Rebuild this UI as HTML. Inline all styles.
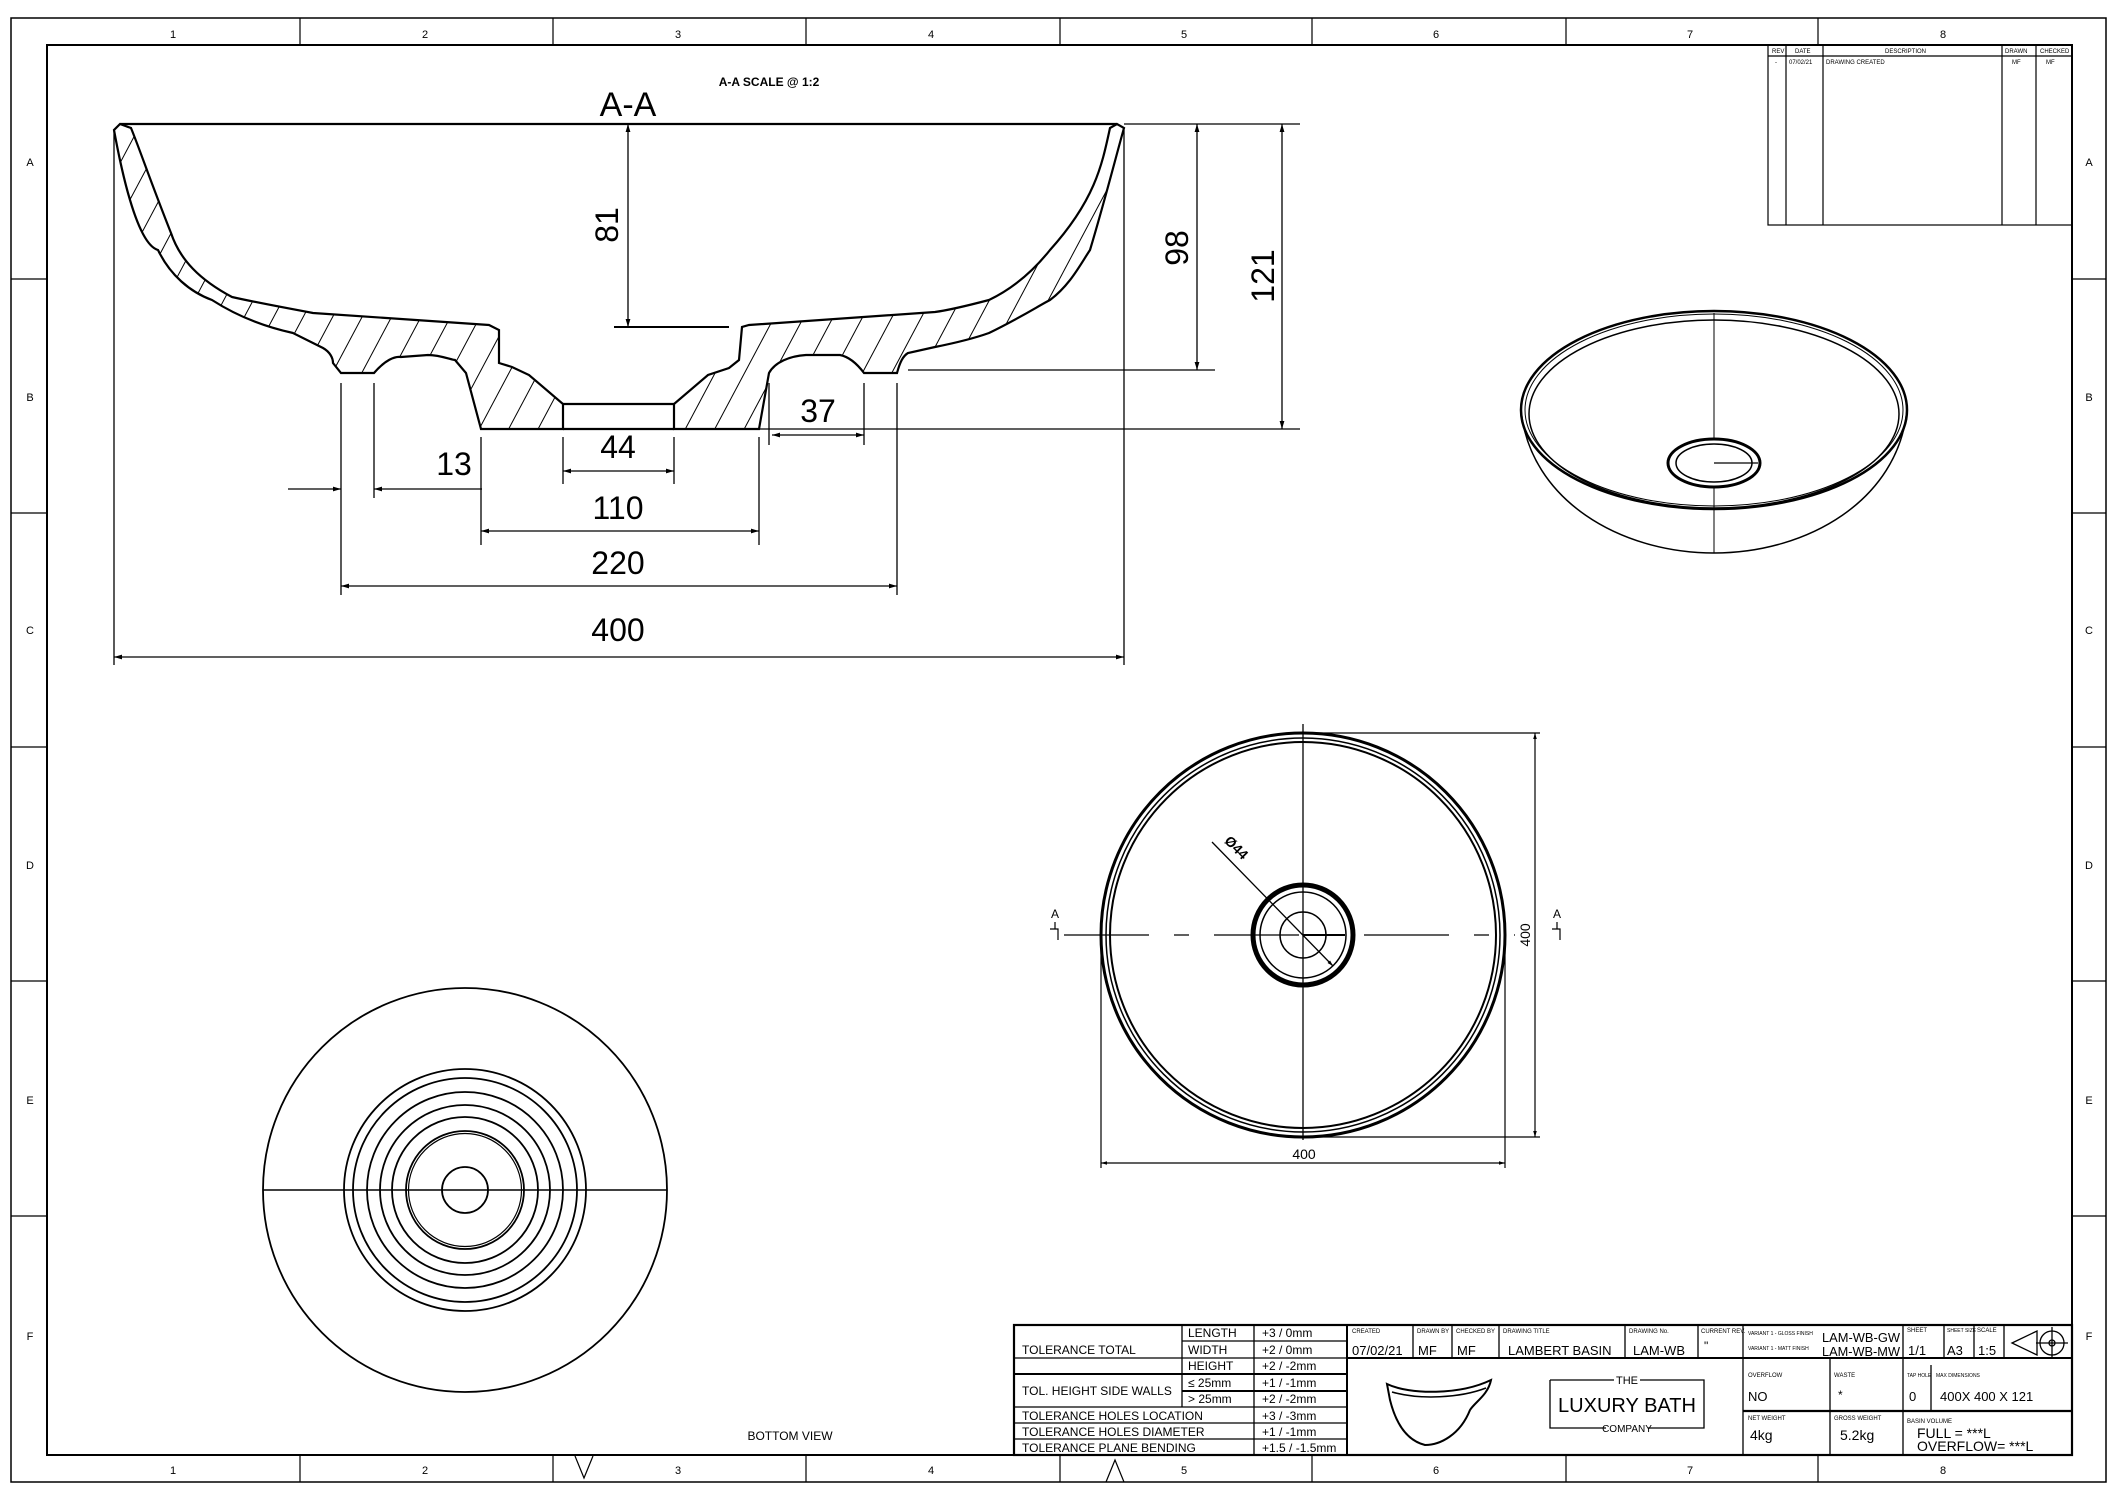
<!DOCTYPE html>
<html><head><meta charset="utf-8"><style>
html,body{margin:0;padding:0;background:#fff}
svg{display:block}
text{font-family:"Liberation Sans",Arial,sans-serif;fill:#000}
</style></head><body>
<svg width="2117" height="1497" viewBox="0 0 2117 1497" xmlns="http://www.w3.org/2000/svg">
<defs>
<pattern id="h" patternUnits="userSpaceOnUse" width="26" height="26" patternTransform="rotate(28)">
<line x1="0" y1="0" x2="0" y2="26" stroke="#000" stroke-width="2"/>
</pattern>
<marker id="ar" viewBox="0 0 10 10" refX="10" refY="5" markerWidth="12" markerHeight="6" markerUnits="userSpaceOnUse" orient="auto-start-reverse"><path d="M0,2 L10,5 L0,8z" fill="#000"/></marker>
<marker id="ar2" viewBox="0 0 10 10" refX="10" refY="5" markerWidth="20" markerHeight="8" markerUnits="userSpaceOnUse" orient="auto-start-reverse"><path d="M0,2 L10,5 L0,8z" fill="#000"/></marker>
</defs>
<g fill="none" stroke="#000">
<rect x="11" y="18" width="2095" height="1464" stroke-width="1.5"/>
<rect x="47" y="45" width="2025" height="1410" stroke-width="2"/>
<g stroke-width="1.2">
<line x1="300" y1="18" x2="300" y2="45"/><line x1="553" y1="18" x2="553" y2="45"/><line x1="806" y1="18" x2="806" y2="45"/><line x1="1060" y1="18" x2="1060" y2="45"/><line x1="1312" y1="18" x2="1312" y2="45"/><line x1="1566" y1="18" x2="1566" y2="45"/><line x1="1818" y1="18" x2="1818" y2="45"/>
<line x1="300" y1="1455" x2="300" y2="1482"/><line x1="553" y1="1455" x2="553" y2="1482"/><line x1="806" y1="1455" x2="806" y2="1482"/><line x1="1060" y1="1455" x2="1060" y2="1482"/><line x1="1312" y1="1455" x2="1312" y2="1482"/><line x1="1566" y1="1455" x2="1566" y2="1482"/><line x1="1818" y1="1455" x2="1818" y2="1482"/>
<line x1="11" y1="279" x2="47" y2="279"/><line x1="11" y1="513" x2="47" y2="513"/><line x1="11" y1="747" x2="47" y2="747"/><line x1="11" y1="981" x2="47" y2="981"/><line x1="11" y1="1216" x2="47" y2="1216"/>
<line x1="2072" y1="279" x2="2106" y2="279"/><line x1="2072" y1="513" x2="2106" y2="513"/><line x1="2072" y1="747" x2="2106" y2="747"/><line x1="2072" y1="981" x2="2106" y2="981"/><line x1="2072" y1="1216" x2="2106" y2="1216"/>
<path d="M575,1456 L584,1478 L593,1456"/>
<path d="M1106,1482 L1115,1460 L1124,1482"/>
</g>

<path fill="url(#h)" stroke-width="2.2" d="M120,124 L114,130 C125,190 140,245 158,250 C170,275 190,292 212,300 C240,318 270,328 293,333 L323,348 C330,352 333,358 333,363 L341,373 L374,373 C385,360 395,356 401,357 L428,355 C440,355 452,360 455,360 L466,373 L481,429 L563,429 L563,404 L529,375 L512,367 L499,363 L499,330 L489,325 L313,313 C270,305 245,300 232,297 C200,280 180,260 171,233 C150,180 140,150 131,128 Z"/>
<path fill="url(#h)" stroke-width="2.2" d="M674,404 L674,429 L759,429 L769,373 C775,362 790,356 806,355 L840,355 C850,357 858,365 864,373 L897,373 C900,362 903,356 908,353 L935,347 C960,342 975,338 989,333 C1020,318 1040,305 1050,300 C1070,285 1080,265 1090,250 C1105,200 1115,160 1124,128 L1117,124 L1110,128 C1102,165 1095,200 1050,250 C1030,275 1010,290 989,300 C970,305 950,310 935,312 L749,325 L742,327 L739,360 L729,368 L708,375 Z"/>
<line x1="563" y1="404" x2="674" y2="404" stroke-width="2.2"/>
<line x1="563" y1="429" x2="674" y2="429" stroke-width="2.2"/>
<line x1="120" y1="124" x2="1117" y2="124" stroke-width="2.2"/>
<g stroke-width="1.3">
<line x1="1124" y1="124" x2="1300" y2="124"/>
<line x1="759" y1="429" x2="1300" y2="429"/>
<line x1="908" y1="370" x2="1215" y2="370"/>
<line x1="614" y1="327" x2="729" y2="327" stroke-width="2"/>
<line x1="628" y1="124" x2="628" y2="327" marker-start="url(#ar2)" marker-end="url(#ar2)"/>
<line x1="1197" y1="124" x2="1197" y2="370" marker-start="url(#ar2)" marker-end="url(#ar2)"/>
<line x1="1282" y1="124" x2="1282" y2="429" marker-start="url(#ar2)" marker-end="url(#ar2)"/>
<line x1="114" y1="130" x2="114" y2="665"/><line x1="1124" y1="130" x2="1124" y2="665"/>
<line x1="341" y1="383" x2="341" y2="595"/><line x1="374" y1="383" x2="374" y2="498"/>
<line x1="481" y1="437" x2="481" y2="545"/><line x1="563" y1="437" x2="563" y2="484"/>
<line x1="674" y1="437" x2="674" y2="484"/><line x1="759" y1="437" x2="759" y2="545"/>
<line x1="769" y1="383" x2="769" y2="445"/><line x1="864" y1="383" x2="864" y2="445"/>
<line x1="897" y1="383" x2="897" y2="595"/>
<line x1="772" y1="435" x2="864" y2="435" marker-start="url(#ar2)" marker-end="url(#ar2)"/>
<line x1="288" y1="489" x2="341" y2="489" marker-end="url(#ar2)"/>
<line x1="482" y1="489" x2="374" y2="489" marker-end="url(#ar2)"/>
<line x1="563" y1="471" x2="674" y2="471" marker-start="url(#ar2)" marker-end="url(#ar2)"/>
<line x1="481" y1="531" x2="759" y2="531" marker-start="url(#ar2)" marker-end="url(#ar2)"/>
<line x1="341" y1="586" x2="897" y2="586" marker-start="url(#ar2)" marker-end="url(#ar2)"/>
<line x1="114" y1="657" x2="1124" y2="657" marker-start="url(#ar2)" marker-end="url(#ar2)"/>
</g>

<g stroke-width="2">
<ellipse cx="1714" cy="410" rx="193" ry="99" stroke-width="2.5"/>
<ellipse cx="1714" cy="414" rx="185" ry="94" stroke-width="1.5"/>
<ellipse cx="1714" cy="410" rx="189" ry="96" stroke-width="1"/>
<path d="M1521,410 C1530,500 1620,553 1714,553 C1808,553 1898,500 1907,410" stroke-width="1.5"/>
<ellipse cx="1714" cy="463" rx="46" ry="24" stroke-width="3"/>
<ellipse cx="1714" cy="463" rx="38" ry="19" stroke-width="1.5"/>
<line x1="1714" y1="313" x2="1714" y2="439" stroke-width="1"/>
<line x1="1714" y1="487" x2="1714" y2="553" stroke-width="1"/>
<line x1="1714" y1="463" x2="1758" y2="463" stroke-width="1.2"/>
</g>

<g>
<circle cx="1303" cy="935" r="202" stroke-width="3"/>
<circle cx="1303" cy="935" r="197" stroke-width="1.5"/>
<circle cx="1303" cy="935" r="193" stroke-width="2"/>
<circle cx="1303" cy="935" r="50" stroke-width="5"/>
<circle cx="1303" cy="935" r="43" stroke-width="1.5"/>
<circle cx="1303" cy="935" r="23" stroke-width="1.5"/>
<line x1="1064" y1="935" x2="1515" y2="935" stroke-width="1.2" stroke-dasharray="85,25,15,25"/>
<line x1="1303" y1="724" x2="1303" y2="1140" stroke-width="1.3"/>
<line x1="1303" y1="935" x2="1345" y2="935" stroke-width="2"/>
<line x1="1212" y1="842" x2="1333" y2="966" stroke-width="1.3" marker-end="url(#ar)"/>
<g stroke-width="1.2">
<line x1="1303" y1="733" x2="1540" y2="733"/><line x1="1303" y1="1137" x2="1540" y2="1137"/>
<line x1="1535" y1="733" x2="1535" y2="1137" marker-start="url(#ar)" marker-end="url(#ar)"/>
<line x1="1101" y1="935" x2="1101" y2="1168"/><line x1="1505" y1="935" x2="1505" y2="1168"/>
<line x1="1101" y1="1163" x2="1505" y2="1163" marker-start="url(#ar)" marker-end="url(#ar)"/>
<path d="M1050,929 L1058,929 L1058,940 M1055,929 L1055,922" /><path d="M1552,929 L1560,929 L1560,940 M1557,929 L1557,922"/>
</g>
</g>

<g stroke-width="1.8">
<circle cx="465" cy="1190" r="202"/>
<circle cx="465" cy="1190" r="121"/>
<circle cx="465" cy="1190" r="112"/>
<circle cx="465" cy="1190" r="98"/>
<circle cx="465" cy="1190" r="85"/>
<circle cx="465" cy="1190" r="73"/>
<circle cx="465" cy="1190" r="59"/>
<circle cx="465" cy="1190" r="56.5" stroke-width="1.2"/>
<circle cx="465" cy="1190" r="23"/>
<line x1="263" y1="1190" x2="667" y2="1190" stroke-width="1.5"/>
</g>

<g stroke-width="1.2">
<rect x="1768" y="45" width="304" height="180"/>
<line x1="1768" y1="56" x2="2072" y2="56"/>
<line x1="1786" y1="45" x2="1786" y2="225"/><line x1="1823" y1="45" x2="1823" y2="225"/>
<line x1="2002" y1="45" x2="2002" y2="225"/><line x1="2036" y1="45" x2="2036" y2="225"/>
</g>

<g stroke-width="1.3">
<rect x="1014" y="1325" width="1058" height="130" stroke-width="2.2"/>
<line x1="1014" y1="1358" x2="1182" y2="1358"/>
<line x1="1014" y1="1374" x2="1347" y2="1374" stroke-width="2"/>
<line x1="1182" y1="1341" x2="1347" y2="1341"/><line x1="1182" y1="1358" x2="1347" y2="1358"/>
<line x1="1182" y1="1391" x2="1347" y2="1391" stroke-width="2"/>
<line x1="1014" y1="1407" x2="1347" y2="1407"/>
<line x1="1014" y1="1423" x2="1347" y2="1423"/>
<line x1="1014" y1="1439" x2="1347" y2="1439"/>
<line x1="1182" y1="1325" x2="1182" y2="1407"/>
<line x1="1254" y1="1325" x2="1254" y2="1455"/>
<line x1="1347" y1="1325" x2="1347" y2="1455" stroke-width="2"/>
<line x1="1347" y1="1358" x2="2072" y2="1358" stroke-width="2"/>
<line x1="1413" y1="1325" x2="1413" y2="1358"/><line x1="1452" y1="1325" x2="1452" y2="1358"/>
<line x1="1499" y1="1325" x2="1499" y2="1358"/><line x1="1625" y1="1325" x2="1625" y2="1358"/>
<line x1="1698" y1="1325" x2="1698" y2="1358"/><line x1="1743" y1="1325" x2="1743" y2="1455"/>
<line x1="1903" y1="1325" x2="1903" y2="1455"/><line x1="1944" y1="1325" x2="1944" y2="1358"/>
<line x1="1974" y1="1325" x2="1974" y2="1358"/><line x1="2004" y1="1325" x2="2004" y2="1358"/>
<line x1="1830" y1="1358" x2="1830" y2="1455"/>
<line x1="1743" y1="1411" x2="2072" y2="1411" stroke-width="2.2"/>
<line x1="1931" y1="1365" x2="1931" y2="1411"/>
<path d="M1550,1380 L1614,1380 M1640,1380 L1704,1380 L1704,1428 L1648,1428 M1606,1428 L1550,1428 L1550,1380"/>
<path d="M1387,1384 C1410,1395 1460,1395 1491,1380 C1488,1395 1475,1402 1470,1410 C1460,1435 1440,1445 1425,1445 C1405,1440 1395,1420 1390,1400 Z" stroke-width="2"/>
<path d="M1392,1392 C1420,1400 1460,1398 1486,1388" stroke-width="1.5"/>
<path d="M2012,1343 L2037,1331 L2037,1355 Z"/>
<circle cx="2052" cy="1343" r="12"/><circle cx="2052" cy="1343" r="3"/>
<line x1="2036" y1="1343" x2="2068" y2="1343"/><line x1="2052" y1="1327" x2="2052" y2="1359"/>
</g>
</g>

<g font-size="11" text-anchor="middle">
<text x="173" y="38">1</text><text x="425" y="38">2</text><text x="678" y="38">3</text><text x="931" y="38">4</text><text x="1184" y="38">5</text><text x="1436" y="38">6</text><text x="1690" y="38">7</text><text x="1943" y="38">8</text>
<text x="173" y="1474">1</text><text x="425" y="1474">2</text><text x="678" y="1474">3</text><text x="931" y="1474">4</text><text x="1184" y="1474">5</text><text x="1436" y="1474">6</text><text x="1690" y="1474">7</text><text x="1943" y="1474">8</text>
<text x="30" y="166">A</text><text x="30" y="401">B</text><text x="30" y="634">C</text><text x="30" y="869">D</text><text x="30" y="1104">E</text><text x="30" y="1340">F</text>
<text x="2089" y="166">A</text><text x="2089" y="401">B</text><text x="2089" y="634">C</text><text x="2089" y="869">D</text><text x="2089" y="1104">E</text><text x="2089" y="1340">F</text>
</g>
<g text-anchor="middle">
<text x="628" y="116" font-size="34">A-A</text>
<text x="769" y="86" font-size="12" font-weight="bold">A-A SCALE @ 1:2</text>
<text x="454" y="475" font-size="32">13</text>
<text x="618" y="458" font-size="32">44</text>
<text x="818" y="422" font-size="32">37</text>
<text x="618" y="519" font-size="32">110</text>
<text x="618" y="574" font-size="32">220</text>
<text x="618" y="641" font-size="32">400</text>
<text font-size="32" transform="translate(618,225) rotate(-90)">81</text>
<text font-size="32" transform="translate(1188,248) rotate(-90)">98</text>
<text font-size="32" transform="translate(1274,276) rotate(-90)">121</text>
<text x="1304" y="1159" font-size="14">400</text>
<text font-size="14" transform="translate(1530,935) rotate(-90)">400</text>
<text font-size="14" font-weight="bold" transform="translate(1233,851) rotate(45)">Ø44</text>
<text x="1055" y="918" font-size="12">A</text><text x="1557" y="918" font-size="12">A</text>
<text x="790" y="1440" font-size="12">BOTTOM VIEW</text>
<text x="1627" y="1384" font-size="11">THE</text>
<text x="1627" y="1412" font-size="20" textLength="138" lengthAdjust="spacingAndGlyphs">LUXURY BATH</text>
<text x="1627" y="1432" font-size="10">COMPANY</text>
</g>
<g font-size="6">
<text x="1772" y="53">REV</text><text x="1795" y="53">DATE</text><text x="1885" y="53">DESCRIPTION</text><text x="2005" y="53">DRAWN</text><text x="2040" y="53">CHECKED</text>
<text x="1775" y="64">-</text><text x="1789" y="64">07/02/21</text><text x="1826" y="64">DRAWING CREATED</text><text x="2012" y="64">MF</text><text x="2046" y="64">MF</text>
<text x="1352" y="1333">CREATED</text><text x="1417" y="1333">DRAWN BY</text><text x="1456" y="1333">CHECKED BY</text><text x="1503" y="1333">DRAWING TITLE</text><text x="1629" y="1333">DRAWING No.</text><text x="1701" y="1333">CURRENT REV.</text>
<text x="1748" y="1335" font-size="5">VARIANT 1 - GLOSS FINISH</text><text x="1748" y="1350" font-size="5">VARIANT 1 - MATT FINISH</text>
<text x="1907" y="1332">SHEET</text><text x="1947" y="1332" font-size="5">SHEET SIZE</text><text x="1977" y="1332">SCALE</text>
<text x="1748" y="1377">OVERFLOW</text><text x="1834" y="1377">WASTE</text><text x="1907" y="1377" font-size="5">TAP HOLE</text><text x="1936" y="1377" font-size="5">MAX DIMENSIONS</text>
<text x="1748" y="1420">NET WEIGHT</text><text x="1834" y="1420">GROSS WEIGHT</text><text x="1907" y="1423">BASIN VOLUME</text>
</g>
<g font-size="12">
<text x="1022" y="1354">TOLERANCE TOTAL</text>
<text x="1022" y="1395">TOL. HEIGHT SIDE WALLS</text>
<text x="1022" y="1420">TOLERANCE HOLES LOCATION</text>
<text x="1022" y="1436">TOLERANCE HOLES DIAMETER</text>
<text x="1022" y="1452">TOLERANCE PLANE BENDING</text>
<text x="1188" y="1337">LENGTH</text><text x="1188" y="1354">WIDTH</text><text x="1188" y="1370">HEIGHT</text>
<text x="1188" y="1387">≤ 25mm</text><text x="1188" y="1403">&gt; 25mm</text>
<text x="1262" y="1337">+3 / 0mm</text><text x="1262" y="1354">+2 / 0mm</text><text x="1262" y="1370">+2 / -2mm</text>
<text x="1262" y="1387">+1 / -1mm</text><text x="1262" y="1403">+2 / -2mm</text><text x="1262" y="1420">+3 / -3mm</text>
<text x="1262" y="1436">+1 / -1mm</text><text x="1262" y="1452">+1.5 / -1.5mm</text>
<text x="1352" y="1355" font-size="13">07/02/21</text><text x="1418" y="1355" font-size="13">MF</text><text x="1457" y="1355" font-size="13">MF</text>
<text x="1508" y="1355" font-size="13">LAMBERT BASIN</text><text x="1633" y="1355" font-size="13">LAM-WB</text><text x="1704" y="1350">"</text>
<text x="1822" y="1342" font-size="13" textLength="78" lengthAdjust="spacingAndGlyphs">LAM-WB-GW</text><text x="1822" y="1356" font-size="13" textLength="78" lengthAdjust="spacingAndGlyphs">LAM-WB-MW</text>
<text x="1908" y="1355" font-size="13">1/1</text><text x="1947" y="1355" font-size="13">A3</text><text x="1978" y="1355" font-size="13">1:5</text>
<text x="1748" y="1401" font-size="13">NO</text><text x="1838" y="1399">*</text><text x="1909" y="1401" font-size="13">0</text><text x="1940" y="1401" font-size="13">400X 400 X 121</text>
<text x="1750" y="1440" font-size="14">4kg</text><text x="1840" y="1440" font-size="14">5.2kg</text>
<text x="1917" y="1438" font-size="14">FULL = ***L</text><text x="1917" y="1451" font-size="14">OVERFLOW= ***L</text>
</g>
</svg>
</body></html>
